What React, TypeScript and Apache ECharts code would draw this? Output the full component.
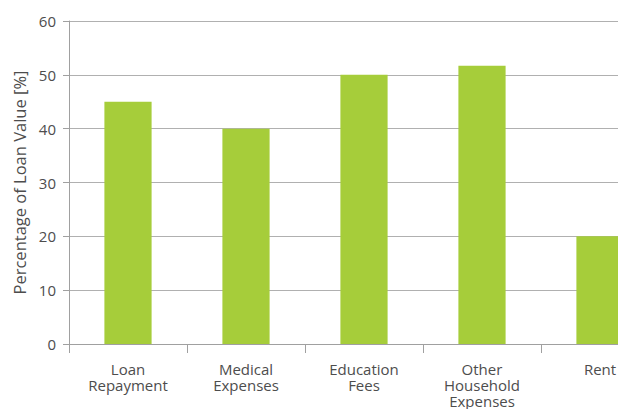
import React, { useEffect, useRef } from "react";
import * as echarts from "echarts";

const categories = ["Loan\nRepayment", "Medical\nExpenses", "Education\nFees", "Other\nHousehold\nExpenses", "Rent"];
const values = [45, 40, 50, 51.7, 20];
const yTicks = { min: 0, max: 60, interval: 10 };

export default function App() {
  const ref = useRef<HTMLDivElement>(null);
  useEffect(() => {
    const chart = echarts.init(ref.current!, null, { renderer: "svg" });
    chart.setOption({
      animation: false,
      textStyle: { fontFamily: "Open Sans" },
      grid: { left: 69, top: 21, bottom: 63.5, right: 0, containLabel: false },
      xAxis: {
        type: "category",
        data: categories,
        axisLine: { lineStyle: { color: "#a0a0a0", width: 1 } },
        axisTick: { show: true, length: 9, lineStyle: { color: "#a0a0a0" } },
        axisLabel: { color: "#4d4d4d", fontSize: 15, lineHeight: 16, margin: 17, interval: 0 },
      },
      yAxis: {
        type: "value",
        min: yTicks.min,
        max: yTicks.max,
        interval: yTicks.interval,
        name: "Percentage of Loan Value [%]",
        nameLocation: "middle",
        nameGap: 37,
        nameTextStyle: { color: "#4d4d4d", fontSize: 16.5 },
        axisLine: { show: true, lineStyle: { color: "#a0a0a0" } },
        axisTick: { show: true, length: 6, lineStyle: { color: "#a0a0a0" } },
        axisLabel: { color: "#4d4d4d", fontSize: 15, margin: 13 },
        splitLine: { show: true, lineStyle: { color: "#b0b0b0", width: 1 } },
      },
      series: [
        {
          type: "bar",
          data: values,
          barWidth: "40%",
          itemStyle: { color: "#a6cd3a" },
        },
      ],
    });
    return () => chart.dispose();
  }, []);
  return (
    <div style={{ position: "absolute", left: 0, top: 0, width: 618, height: 409, overflow: "hidden" }}>
      <div ref={ref} style={{ width: 659, height: 409 }} />
    </div>
  );
}
